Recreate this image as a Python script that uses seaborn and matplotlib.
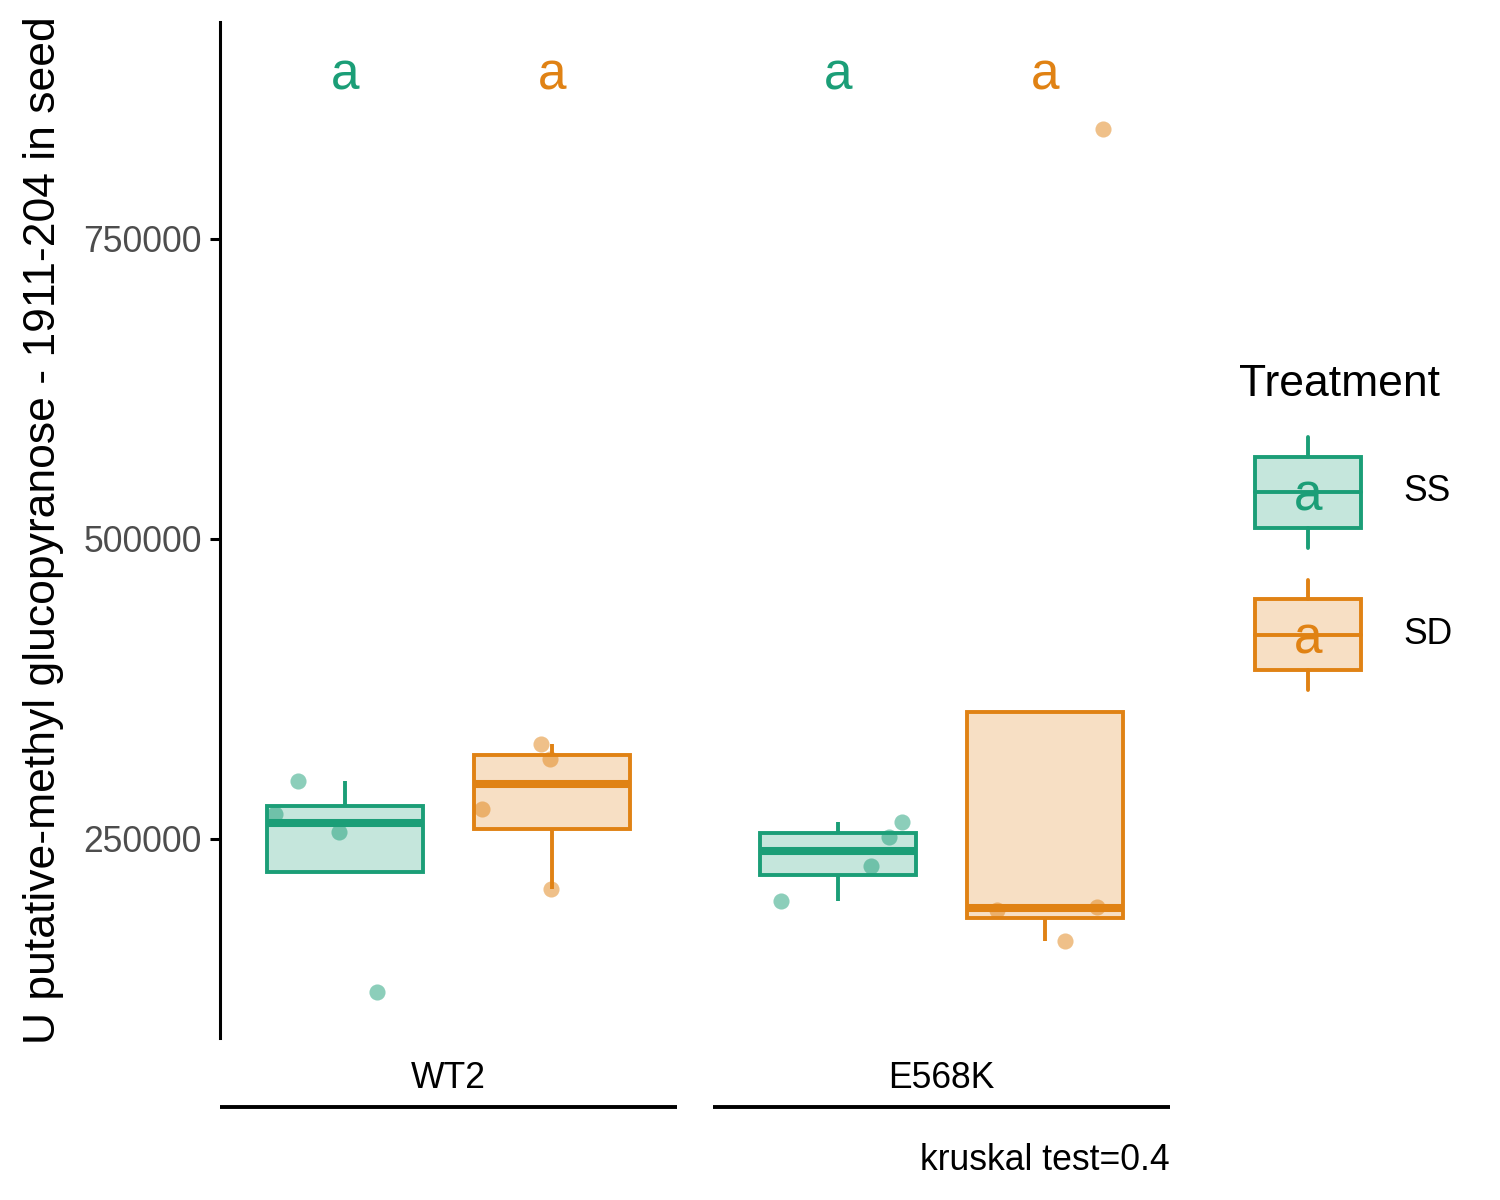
import numpy as np
import pandas as pd
import matplotlib
matplotlib.use("Agg")
import matplotlib.pyplot as plt
import seaborn as sns
from matplotlib.colors import to_rgba
from matplotlib.lines import Line2D
from matplotlib.patches import Rectangle
from matplotlib.text import Text
from matplotlib.legend_handler import HandlerBase

# ---------------- data ----------------
genotypes = ["WT2", "E568K"]
treatments = ["SS", "SD"]
wt2_ss = [298333, 270833, 255833, 122500]
wt2_sd = [329167, 316667, 275000, 208333]
e568k_ss = [264167, 251667, 227500, 198333]
e568k_sd = [841667, 193333, 190833, 165000]
letters_wt2 = ["a", "a"]
letters_e568k = ["a", "a"]
y_ticks = [250000, 500000, 750000]
ylabel = "U putative-methyl glucopyranose - 1911-204 in seed"
caption = "kruskal test=0.4"
colors = {"SS": "#1B9E77", "SD": "#E08214"}

rows = []
for g, t, vals in [("WT2", "SS", wt2_ss), ("WT2", "SD", wt2_sd),
                   ("E568K", "SS", e568k_ss), ("E568K", "SD", e568k_sd)]:
    for v in vals:
        rows.append({"Genotype": g, "Treatment": t, "value": v})
df = pd.DataFrame(rows)
letters = {"WT2": letters_wt2, "E568K": letters_e568k}

letter_y = df["value"].max() * 1.06
lo, hi = df["value"].min(), letter_y
rng = hi - lo
ylim = (lo - 0.05 * rng, hi + 0.05 * rng)

# ---------------- style ----------------
sns.set_theme(style="white")
plt.rcParams["font.family"] = ["Liberation Sans", "DejaVu Sans"]
plt.rcParams["text.color"] = "black"

fig = plt.figure(figsize=(7.5, 6), dpi=200)
W, H = 1500, 1200
bottom = 1 - 1038 / H
top = 1 - 22 / H
ax1 = fig.add_axes([220 / W, bottom, (677 - 220) / W, top - bottom])
ax2 = fig.add_axes([713 / W, bottom, (1170 - 713) / W, top - bottom], sharey=ax1)
axes = [ax1, ax2]

np.random.seed(11)
for ax, g in zip(axes, genotypes):
    sub = df[df["Genotype"] == g]
    for t in treatments:
        c = colors[t]
        st = sub[sub["Treatment"] == t]
        n_before = len(ax.patches)
        sns.boxplot(data=st, x="Treatment", y="value", order=treatments,
                    color=c, linecolor=c, fill=True, saturation=1,
                    width=0.75, showfliers=False, showcaps=False,
                    linewidth=1.4,
                    medianprops=dict(linewidth=2.9, color=c),
                    whiskerprops=dict(linewidth=1.4, color=c),
                    ax=ax)
        for p in ax.patches[n_before:]:
            p.set_facecolor(to_rgba(c, 0.25))
            p.set_edgecolor(c)
            p.set_linewidth(1.4)
        sns.stripplot(data=st, x="Treatment", y="value", order=treatments,
                      color=c, alpha=0.5, size=5.8, jitter=0.35,
                      linewidth=0, ax=ax, zorder=5)
    for i, t in enumerate(treatments):
        ax.annotate(letters[g][i], (i, letter_y), xytext=(0, -2.9),
                    textcoords="offset points", color=colors[t],
                    ha="center", va="center", fontsize=18.5)
    ax.set_xlim(-0.6, 1.6)
    ax.set_ylim(*ylim)
    ax.set_xticks([])
    ax.set_xlabel("")
    for s in ["top", "right", "bottom"]:
        ax.spines[s].set_visible(False)
    ax.text(0.5, -0.040, g, transform=ax.transAxes, ha="center",
            va="center", fontsize=12.8, color="black")
    ax.add_artist(Line2D([0, 1], [-0.0679, -0.0679], transform=ax.transAxes,
                         clip_on=False, color="black", lw=1.4,
                         solid_capstyle="butt"))

ax1.set_yticks(y_ticks)
ax1.set_yticklabels([str(v) for v in y_ticks])
ax1.tick_params(axis="y", left=True, length=3.6, width=1.1, color="black",
                labelsize=12.8, labelcolor="#4D4D4D", pad=3)
ax1.spines["left"].set_color("black")
ax1.spines["left"].set_linewidth(1.1)
ax1.set_ylabel(ylabel, fontsize=16, color="black", labelpad=7)

ax2.spines["left"].set_visible(False)
ax2.tick_params(axis="y", left=False, labelleft=False)
ax2.set_ylabel("")
ax2.text(1.0, -0.121, caption, transform=ax2.transAxes, ha="right",
         va="center", fontsize=12.8, color="black")


# ---------------- legend ----------------
KEY_INSET = 0.13  # fraction of handle width left empty before the key glyph


class BoxKeyHandler(HandlerBase):
    def create_artists(self, legend, orig_handle, xdescent, ydescent,
                       width, height, fontsize, trans):
        c = orig_handle.get_color()
        x0, y0 = -xdescent + KEY_INSET * width, -ydescent
        kw = width * (1 - KEY_INSET)
        cx = x0 + kw / 2
        b0 = y0 + 0.18 * height
        b1 = y0 + 0.82 * height
        rect = Rectangle((x0, b0), kw, b1 - b0, facecolor=to_rgba(c, 0.25),
                         edgecolor=c, lw=1.4, transform=trans)
        med = Line2D([x0, x0 + kw], [y0 + height / 2] * 2, color=c, lw=1.4,
                     transform=trans)
        w1 = Line2D([cx, cx], [y0, b0], color=c, lw=1.4, transform=trans)
        w2 = Line2D([cx, cx], [b1, y0 + height], color=c, lw=1.4,
                    transform=trans)
        txt = Text(cx, y0 + height / 2 - 1.8, "a", color=c, fontsize=18.5,
                   ha="center", va="center", transform=trans)
        return [rect, med, w1, w2, txt]


handles = [Line2D([], [], color=colors[t]) for t in treatments]
fig.legend(handles, treatments, title="Treatment", loc="center left",
           bbox_to_anchor=(1221 / W, 1 - 527 / H), frameon=False,
           fontsize=12.8, title_fontsize=16, handlelength=3.45,
           handleheight=4.42, handletextpad=1.18, labelspacing=0.9,
           borderpad=0, alignment="left",
           handler_map={Line2D: BoxKeyHandler()})

fig.savefig("out.png", dpi=200, facecolor="white")
